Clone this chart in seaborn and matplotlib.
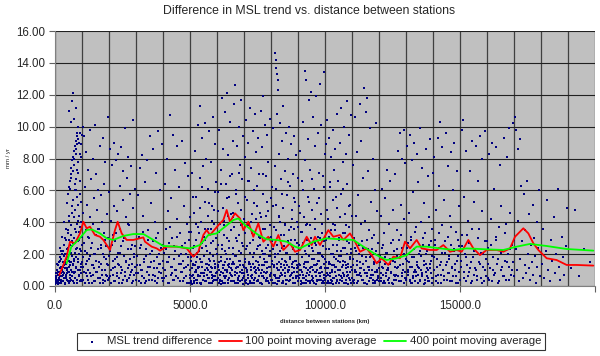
import numpy as np
import pandas as pd
import matplotlib
matplotlib.use("Agg")
import matplotlib.pyplot as plt
import seaborn as sns
from matplotlib.ticker import MultipleLocator, FuncFormatter

# ---------------- data ----------------
pts_0_2k = [(60,0.2),(90,0.8),(110,0.1),(140,1.5),(160,0.5),(180,2.4),(200,0.9),(210,0.2),(230,1.7),(250,3.1),(260,0.6),(280,1.2),(300,0.3),(310,2.2),(330,4.0),(340,0.8),(360,1.5),(370,0.1),(390,2.9),(400,0.6),(410,3.6),(430,1.1),(440,0.4),(450,5.2),(460,2.0),(480,0.9),(490,3.3),(500,0.2),(510,1.6),(520,4.4),(540,0.7),(550,2.6),(560,6.1),(570,1.3),(580,0.4),(600,3.8),(610,6.8),(620,1.9),(630,0.9),(640,5.0),(650,7.2),(660,0.3),(670,2.7),(680,1.4),(690,7.6),(700,4.3),(710,0.8),(720,8.0),(730,2.1),(740,6.4),(750,0.5),(760,8.3),(770,3.4),(780,1.2),(790,8.6),(800,5.6),(810,0.2),(820,8.9),(830,2.4),(840,7.1),(850,1.7),(860,9.2),(870,4.1),(880,0.6),(890,9.0),(900,2.9),(910,6.6),(920,1.0),(930,3.7),(940,9.6),(950,0.4),(960,5.3),(970,2.2),(980,8.1),(990,1.5),
    (520,11.0),(630,11.6),(670,12.1),(780,11.2),(600,10.3),(700,10.5),(850,10.0),
    (1010,0.3),(1030,1.8),(1050,4.6),(1060,0.9),(1080,2.7),(1090,9.4),(1100,0.2),(1120,6.2),(1130,1.4),(1150,3.5),(1160,8.4),(1170,0.6),(1190,2.1),(1200,5.1),(1210,1.0),(1230,7.3),(1240,0.4),(1260,3.0),(1270,1.7),(1290,4.3),(1300,9.8),(1310,0.8),(1330,2.4),(1340,6.7),(1360,0.2),(1370,1.3),(1390,3.9),(1400,8.0),(1410,0.7),(1430,2.0),(1440,5.5),(1460,1.1),(1470,10.1),(1490,0.3),(1500,3.2),(1520,1.6),(1530,7.0),(1550,0.9),(1560,4.8),(1580,2.3),(1590,0.5),(1610,6.0),(1620,1.2),(1640,3.6),(1650,8.8),(1670,0.2),(1690,2.6),(1700,5.7),(1720,1.4),(1730,0.7),(1750,4.0),(1760,9.3),(1780,2.0),(1790,0.4),(1810,3.3),(1830,6.4),(1840,1.0),(1860,0.3),(1870,7.8),(1890,2.5),(1900,1.7),(1920,4.5),(1930,0.6),(1950,3.0),(1960,10.6),(1980,1.3),(1990,5.9)]

pts_2_5k = [(2010,0.5),(2030,2.2),(2050,8.6),(2060,1.0),(2080,4.1),(2090,0.2),(2110,7.6),(2130,1.6),(2150,3.2),(2160,0.7),(2180,9.0),(2200,5.0),(2210,1.2),(2230,0.3),(2240,2.8),(2260,7.9),(2280,1.8),(2300,0.6),(2310,4.7),(2330,8.3),(2350,2.1),(2360,0.2),(2380,1.3),(2400,6.3),(2410,3.6),(2430,0.8),(2450,2.5),(2460,8.7),(2480,1.0),(2500,5.4),(2520,0.4),(2530,7.2),(2550,1.9),(2570,3.0),(2580,0.6),(2600,9.9),(2620,1.5),(2640,4.3),(2650,0.3),(2670,6.8),(2690,2.3),(2700,1.1),(2720,8.1),(2740,0.5),(2750,3.8),(2770,1.7),(2790,5.8),(2800,0.9),(2820,7.5),(2840,2.6),(2850,0.2),(2870,1.4),(2890,4.9),(2900,10.4),(2920,0.7),(2940,2.0),(2960,6.1),(2980,1.2),
    (3010,0.4),(3040,1.9),(3060,5.7),(3080,0.8),(3110,3.1),(3130,7.4),(3150,1.3),(3170,0.2),(3200,2.6),(3220,8.2),(3240,1.0),(3270,4.4),(3290,0.5),(3310,1.7),(3340,6.5),(3360,2.3),(3380,0.3),(3410,7.9),(3430,1.2),(3450,3.5),(3480,0.7),(3500,2.0),(3520,9.4),(3550,1.5),(3570,5.2),(3590,0.4),(3620,2.8),(3640,8.6),(3660,1.1),(3690,0.6),(3710,4.0),(3730,7.1),(3760,1.8),(3780,0.2),(3800,3.3),(3830,9.7),(3850,1.4),(3870,0.9),(3900,6.0),(3920,2.4),(3950,0.5),(3970,8.9),(3990,1.6),
    (4010,0.3),(4030,2.1),(4060,6.4),(4080,1.0),(4100,3.6),(4120,0.6),(4150,8.0),(4170,1.5),(4190,4.7),(4210,0.2),(4240,2.7),(4260,10.7),(4280,1.2),(4300,5.5),(4320,0.8),(4350,3.0),(4370,9.5),(4390,1.7),(4420,0.4),(4440,7.3),(4460,2.2),(4490,1.0),(4510,4.2),(4530,8.8),(4560,0.5),(4580,1.9),(4600,6.2),(4630,3.3),(4650,0.9),(4670,1.4),(4700,9.1),(4720,2.5),(4740,0.3),(4770,5.0),(4790,1.1),(4810,7.7),(4840,2.0),(4860,0.6),(4880,3.9),(4910,1.3),(4930,6.9),(4960,0.2),(4980,2.9)]

pts_5_8k = [(5010,0.5),(5020,1.6),(5040,3.4),(5050,0.2),(5070,7.1),(5080,1.1),(5100,2.4),(5110,0.7),(5130,4.6),(5150,1.9),(5160,0.3),(5180,8.5),(5190,1.3),(5210,2.9),(5220,0.9),(5240,5.6),(5250,0.4),(5270,1.8),(5280,3.7),(5300,10.1),(5310,0.6),(5330,2.2),(5340,1.2),(5360,6.8),(5370,11.3),(5390,0.2),(5400,4.0),(5420,1.5),(5430,9.3),(5450,0.8),(5460,2.7),(5480,7.5),(5490,0.4),(5510,1.9),(5520,3.1),(5540,10.2),(5550,1.0),(5570,5.3),(5580,0.3),(5600,2.5),(5610,8.0),(5630,1.4),(5640,0.7),(5660,4.4),(5670,6.1),(5690,1.7),(5700,0.2),(5720,9.7),(5730,2.1),(5750,0.9),(5760,3.6),(5780,7.8),(5790,1.2),(5810,0.5),(5820,5.0),(5840,2.8),(5850,10.6),(5870,0.3),(5880,1.6),(5900,4.8),(5910,8.9),(5930,1.1),(5940,0.6),(5960,3.0),(5970,6.5),(5990,2.0),
    (6010,0.4),(6020,1.3),(6040,5.9),(6050,2.6),(6060,0.2),(6080,9.8),(6090,1.0),(6110,3.9),(6120,0.7),(6140,7.3),(6150,1.8),(6170,11.8),(6180,0.3),(6200,2.3),(6210,4.9),(6230,1.1),(6240,8.6),(6260,0.6),(6270,3.2),(6290,10.9),(6300,1.5),(6310,0.2),(6330,6.4),(6340,2.0),(6360,0.9),(6370,12.1),(6390,4.4),(6400,1.3),(6420,8.2),(6430,0.5),(6450,2.8),(6460,5.6),(6480,1.7),(6490,10.3),(6510,0.3),(6520,3.5),(6540,7.0),(6550,1.0),(6570,0.6),(6580,9.1),(6600,2.4),(6610,4.6),(6630,1.4),(6640,11.4),(6660,0.2),(6670,12.6),(6690,6.0),(6700,1.9),(6720,3.0),(6730,0.8),(6750,8.8),(6760,1.2),(6780,5.2),(6790,0.4),(6810,10.0),(6820,2.2),(6840,7.6),(6850,1.6),(6870,0.3),(6880,3.8),(6900,11.7),(6910,1.0),(6930,6.7),(6940,2.7),(6960,0.5),(6970,9.4),(6990,4.2),
    (7010,0.6),(7020,1.5),(7040,8.1),(7050,3.3),(7060,0.2),(7080,10.4),(7090,1.1),(7110,5.4),(7120,2.5),(7140,0.7),(7150,9.0),(7170,1.4),(7180,3.9),(7200,6.6),(7210,0.3),(7230,11.2),(7240,2.1),(7260,1.0),(7270,7.4),(7290,4.5),(7300,0.5),(7320,9.7),(7330,1.8),(7350,2.9),(7360,0.2),(7380,6.0),(7390,10.8),(7410,1.2),(7420,3.4),(7440,0.8),(7450,8.4),(7470,2.3),(7480,5.0),(7500,1.5),(7510,0.4),(7530,9.3),(7540,3.1),(7560,1.0),(7570,7.0),(7590,0.2),(7600,2.6),(7620,11.0),(7630,4.3),(7650,1.3),(7660,0.6),(7680,8.7),(7690,2.0),(7710,11.9),(7720,5.8),(7740,0.9),(7750,1.7),(7770,10.1),(7780,3.6),(7800,0.3),(7810,6.9),(7830,2.4),(7840,9.5),(7860,1.1),(7870,0.5),(7890,4.7),(7900,7.8),(7920,1.9),(7930,3.0),(7950,0.7),(7960,10.5),(7980,2.2),(7990,5.5)]

pts_8_11k = [(8010,0.4),(8020,1.6),(8040,6.2),(8050,2.8),(8070,0.2),(8080,9.9),(8100,1.2),(8110,3.7),(8130,0.7),(8140,7.5),(8150,14.6),(8160,2.0),(8170,14.2),(8180,0.5),(8190,5.1),(8200,13.7),(8210,1.4),(8220,13.3),(8230,10.8),(8240,2.6),(8250,12.9),(8260,0.3),(8270,12.3),(8280,4.4),(8290,8.3),(8300,1.0),(8320,10.2),(8330,2.2),(8350,0.6),(8360,6.7),(8380,3.2),(8390,1.7),(8410,9.1),(8420,0.2),(8440,4.9),(8450,11.3),(8470,1.3),(8480,2.5),(8500,7.2),(8510,0.8),(8530,3.8),(8540,9.6),(8560,1.5),(8570,0.4),(8590,5.7),(8600,2.1),(8620,8.0),(8630,1.0),(8650,0.3),(8660,3.5),(8680,10.0),(8690,6.3),(8710,1.8),(8720,0.6),(8740,2.9),(8750,8.9),(8770,4.2),(8780,1.2),(8800,0.2),(8810,7.0),(8830,2.4),(8840,9.4),(8860,0.9),(8870,3.6),(8890,5.3),(8900,1.6),(8920,0.5),(8930,8.2),(8950,2.7),(8960,4.0),(8980,1.1),(8990,6.8),
    (9010,0.3),(9020,1.4),(9040,5.0),(9050,2.3),(9070,0.7),(9080,8.5),(9100,1.0),(9110,3.4),(9130,0.2),(9140,6.6),(9160,1.8),(9170,10.3),(9190,2.7),(9200,0.5),(9220,4.3),(9230,1.2),(9250,13.5),(9260,7.9),(9280,0.4),(9290,2.0),(9310,12.9),(9320,3.9),(9340,1.5),(9350,0.8),(9370,9.2),(9380,5.6),(9400,2.5),(9410,11.7),(9430,0.2),(9440,1.1),(9460,7.3),(9470,3.0),(9490,12.2),(9500,1.7),(9510,0.6),(9530,4.8),(9540,10.6),(9560,2.2),(9570,0.3),(9590,6.1),(9600,1.3),(9620,8.8),(9630,3.6),(9650,0.9),(9660,11.9),(9680,2.6),(9690,5.2),(9710,1.0),(9720,0.4),(9740,9.6),(9750,3.1),(9770,1.6),(9780,7.1),(9800,0.6),(9810,12.7),(9830,2.1),(9840,4.5),(9860,1.2),(9870,10.1),(9890,0.2),(9900,3.3),(9920,6.9),(9930,1.8),(9950,13.4),(9960,2.8),(9980,0.5),(9990,8.3),
    (10010,0.4),(10020,1.5),(10040,8.9),(10050,2.9),(10070,0.8),(10080,10.4),(10100,1.1),(10110,4.2),(10130,0.2),(10140,9.3),(10160,2.3),(10170,6.2),(10190,1.4),(10200,0.6),(10220,8.1),(10230,3.5),(10250,1.0),(10260,0.3),(10280,5.4),(10290,9.8),(10310,2.0),(10320,1.3),(10340,7.3),(10350,0.5),(10370,3.8),(10380,8.6),(10400,1.7),(10410,0.2),(10430,4.9),(10440,2.6),(10460,10.8),(10470,1.0),(10490,6.6),(10500,0.7),(10520,3.0),(10530,1.9),(10550,9.0),(10560,0.4),(10580,2.2),(10590,11.2),(10610,5.8),(10620,1.2),(10640,0.3),(10650,7.8),(10670,3.3),(10680,1.6),(10700,10.0),(10710,0.6),(10730,4.5),(10740,2.4),(10760,8.3),(10770,1.1),(10790,0.2),(10800,6.4),(10820,11.6),(10830,2.8),(10850,1.4),(10860,0.7),(10880,9.5),(10890,3.7),(10910,1.8),(10920,0.4),(10940,5.1),(10950,10.7),(10970,2.1),(10990,1.0)]

pts_11_14k = [(11010,0.5),(11030,1.7),(11050,7.6),(11070,3.0),(11080,0.2),(11100,1.0),(11120,10.6),(11140,4.4),(11150,2.2),(11170,0.7),(11190,8.4),(11200,1.3),(11220,5.7),(11240,0.3),(11260,2.6),(11280,11.4),(11290,1.5),(11310,0.8),(11330,3.9),(11350,9.1),(11360,1.9),(11380,0.4),(11400,6.8),(11420,2.4),(11440,12.4),(11450,1.0),(11470,0.2),(11490,4.1),(11500,10.9),(11520,1.6),(11540,2.9),(11560,0.6),(11570,11.8),(11590,7.2),(11610,1.2),(11630,0.3),(11640,3.5),(11660,9.9),(11680,1.8),(11700,0.7),(11720,5.3),(11730,2.3),(11750,1.0),(11770,0.4),(11790,8.0),(11800,3.2),(11820,1.4),(11840,0.2),(11860,6.0),(11870,2.0),(11890,10.2),(11910,0.9),(11930,4.7),(11950,1.5),(11960,0.5),(11980,2.7),
    (12010,0.3),(12030,1.5),(12060,4.4),(12080,0.8),(12100,2.4),(12120,6.1),(12140,1.1),(12160,0.2),(12190,3.3),(12210,1.8),(12230,5.5),(12250,0.6),(12270,2.1),(12300,7.3),(12320,1.0),(12340,0.4),(12360,3.9),(12390,1.4),(12410,6.6),(12430,0.9),(12450,2.7),(12470,0.2),(12500,1.6),(12520,4.8),(12540,0.7),(12570,2.2),(12590,7.0),(12610,1.2),(12630,0.4),(12660,3.5),(12680,1.9),(12700,8.5),(12720,0.6),(12750,2.9),(12770,9.6),(12790,1.3),(12810,5.1),(12830,0.3),(12850,8.0),(12870,2.4),(12890,1.0),(12910,9.8),(12930,4.2),(12950,0.5),(12970,7.7),(12990,1.7),
    (13010,0.4),(13030,1.6),(13050,8.8),(13070,2.7),(13090,0.9),(13110,4.6),(13130,9.5),(13150,1.2),(13170,0.2),(13190,3.1),(13210,7.9),(13230,1.8),(13250,0.6),(13270,5.9),(13290,2.3),(13310,9.0),(13330,1.0),(13350,0.3),(13370,3.7),(13390,8.3),(13410,1.5),(13430,0.7),(13450,6.5),(13470,2.0),(13490,1.1),(13510,9.9),(13530,0.4),(13550,4.0),(13570,1.9),(13590,7.4),(13610,0.8),(13630,2.6),(13650,1.3),(13670,5.2),(13690,0.2),(13710,3.3),(13730,8.6),(13750,1.4),(13770,0.6),(13790,2.2),(13810,6.9),(13830,1.0),(13850,4.3),(13870,0.3),(13890,9.2),(13910,2.8),(13930,1.6),(13950,0.5),(13970,3.6),(13990,7.1)]

pts_14_20k = [(14010,0.5),(14030,1.8),(14050,8.1),(14080,2.9),(14100,0.3),(14120,4.8),(14150,1.2),(14170,9.3),(14190,0.7),(14220,2.4),(14240,6.3),(14260,10.3),(14280,1.5),(14300,0.2),(14330,3.8),(14350,8.7),(14370,1.0),(14400,0.6),(14420,5.4),(14440,2.1),(14470,9.6),(14490,1.3),(14510,0.4),(14540,3.1),(14560,7.5),(14580,1.7),(14610,0.8),(14630,4.4),(14650,2.6),(14680,8.4),(14700,1.1),(14720,0.3),(14750,6.0),(14770,2.2),(14790,9.0),(14820,1.4),(14840,0.6),(14860,3.4),(14890,7.2),(14910,1.9),(14930,0.2),(14960,5.0),(14980,2.5),
    (15010,0.4),(15040,1.6),(15060,9.8),(15090,3.2),(15110,10.4),(15130,0.9),(15160,5.6),(15180,2.0),(15210,0.3),(15230,8.5),(15260,1.3),(15280,4.1),(15310,0.6),(15330,2.7),(15360,7.2),(15380,1.1),(15410,0.2),(15430,3.6),(15460,9.1),(15480,1.8),(15510,0.7),(15530,5.3),(15560,2.3),(15580,8.8),(15610,1.0),(15630,0.4),(15660,3.0),(15680,6.6),(15710,1.5),(15730,9.4),(15760,0.5),(15780,2.1),(15810,4.7),(15830,8.0),(15860,1.2),(15880,0.3),(15910,2.8),(15930,9.7),(15960,1.7),(15980,0.6),
    (16020,0.5),(16050,2.4),(16080,8.3),(16110,1.1),(16140,4.2),(16170,0.3),(16200,9.0),(16230,1.8),(16260,6.1),(16290,0.8),(16320,2.9),(16350,8.7),(16380,1.4),(16410,0.2),(16440,3.7),(16470,7.6),(16500,1.0),(16530,5.0),(16560,2.2),(16590,0.6),(16620,9.3),(16650,1.6),(16680,3.3),(16710,0.4),(16740,8.1),(16770,2.0),(16800,1.2),(16830,9.9),(16860,4.6),(16890,0.7),(16920,2.6),(16950,10.2),(16980,1.5),
    (17010,0.6),(17030,10.6),(17060,2.3),(17080,9.8),(17110,1.0),(17130,8.6),(17160,4.1),(17190,0.3),(17210,9.2),(17240,1.7),(17270,6.3),(17300,2.8),(17330,0.5),(17360,5.8),(17390,1.3),(17420,3.5),(17450,0.8),(17480,6.6),(17510,2.0),(17540,1.1),(17570,4.5),(17600,0.4),(17630,2.6),(17660,1.5),(17690,5.1),(17720,0.7),(17750,3.0),(17780,1.9),(17810,0.2),(17840,4.0),(17870,1.2),(17900,2.4),(17930,6.0),(17960,0.6),
    (18030,1.4),(18080,3.6),(18120,0.5),(18170,2.2),(18220,5.4),(18270,1.0),(18320,0.3),(18370,2.9),(18420,1.6),(18470,4.3),(18520,0.8),(18570,2.0),(18620,6.1),(18670,1.2),(18720,0.4),(18770,3.1),(18820,1.8),(18870,0.7),(18920,2.5),(18970,4.9),
    (19100,1.1),(19250,4.8),(19400,0.6),(19600,2.3),(19800,1.5)]

# dense lower band and the steep streak near the origin
pts_low_0_5k = [(15,0.1),(30,0.5),(45,0.2),(65,1.0),(75,0.4),(95,0.7),(105,1.3),(125,0.3),(135,0.9),(150,0.2),(170,1.1),(185,0.6),(195,1.8),(215,0.4),(225,1.2),(240,0.8),(255,2.0),(265,0.3),(285,1.5),(295,0.9),(315,2.6),(325,0.5),(345,1.9),(355,1.1),(375,0.2),(385,3.0),(405,1.4),(415,0.7),(435,2.3),(445,1.0),(465,3.5),(475,0.3),(495,1.8),(505,2.9),(525,0.9),(535,4.1),(545,1.5),(565,0.5),(575,3.2),(595,2.1),(605,1.0),(625,4.6),(635,0.6),(645,2.5),(665,1.3),(675,5.4),(695,0.2),(705,3.0),(715,1.7),(735,4.8),(745,0.9),(765,2.3),(775,6.0),(795,1.1),(805,3.9),(825,0.4),(835,2.8),(845,5.1),(865,1.5),(875,0.7),(895,3.4),(905,2.0),(925,5.8),(935,0.3),(945,1.2),(965,4.0),(975,0.8),(985,2.6),
    (8,0.4),(22,0.8),(38,0.3),(52,0.6),(82,1.4),(118,0.9),(142,0.4),(178,1.6),(205,0.3),(232,2.2),(272,1.0),(305,0.7),(338,1.3),(365,2.0),(398,0.5),(425,1.7),(455,0.8),(488,2.4),(515,1.2),(555,0.3),(588,1.5),(618,2.8),(655,0.9),(688,1.6),(725,0.5),(758,3.6),(788,1.8),(818,2.9),(855,1.0),(885,4.4),(915,2.3),(955,1.4),(992,3.1),
    (470,5.8),(500,6.2),(540,6.6),(575,7.0),(610,7.4),(640,7.9),(665,8.1),(700,8.5),(735,8.8),(770,9.1),(800,9.4),(830,9.6),
    (750,6.0),(790,6.7),(830,7.3),(870,7.8),(910,8.3),(950,8.9),(990,9.5),(1030,10.0),
    (1020,1.2),(1055,0.4),(1095,2.2),(1135,0.8),(1175,1.6),(1215,3.1),(1255,0.2),(1295,1.9),(1335,0.6),(1375,2.7),(1415,1.3),(1455,0.3),(1495,2.0),(1535,0.9),(1575,3.6),(1615,1.5),(1655,0.5),(1695,2.4),(1735,1.0),(1775,0.2),(1815,1.8),(1855,2.9),(1895,0.7),(1935,1.4),(1975,0.4),
    (2015,1.9),(2055,0.6),(2095,2.6),(2135,1.1),(2175,0.3),(2215,1.7),(2255,3.3),(2295,0.8),(2335,1.4),(2375,0.5),(2415,2.1),(2455,1.2),(2495,0.2),(2535,2.8),(2575,0.9),(2615,1.6),(2655,0.4),(2695,3.9),(2735,1.3),(2775,0.7),(2815,2.3),(2855,1.0),(2895,0.3),(2935,1.8),(2975,2.5),
    (3015,0.8),(3055,1.3),(3095,0.3),(3135,2.4),(3175,1.0),(3215,0.6),(3255,3.4),(3295,1.5),(3335,0.2),(3375,1.9),(3415,0.9),(3455,2.9),(3495,0.4),(3535,1.2),(3575,2.2),(3615,0.7),(3655,1.6),(3695,0.3),(3735,3.0),(3775,1.1),(3815,0.5),(3855,2.0),(3895,1.4),(3935,0.8),(3975,2.6),
    (4015,1.1),(4055,0.5),(4095,2.3),(4135,1.5),(4175,0.2),(4215,1.8),(4255,3.7),(4295,0.7),(4335,1.2),(4375,0.4),(4415,2.5),(4455,1.0),(4495,0.6),(4535,3.1),(4575,1.4),(4615,0.3),(4655,2.0),(4695,0.9),(4735,1.6),(4775,0.5),(4815,2.7),(4855,1.2),(4895,0.2),(4935,1.8),(4975,3.4)]

pts_low_5_11k = [(5005,1.0),(5030,0.3),(5055,1.8),(5080,0.6),(5105,1.3),(5130,0.2),(5155,2.5),(5180,0.9),(5205,1.5),(5230,0.4),(5255,2.1),(5280,1.1),(5305,0.7),(5330,3.3),(5355,0.2),(5380,1.7),(5405,0.8),(5430,2.4),(5455,1.2),(5480,0.4),(5505,1.9),(5530,0.6),(5555,2.9),(5580,1.4),(5605,0.3),(5630,2.2),(5655,1.0),(5680,3.6),(5705,0.5),(5730,1.6),(5755,0.2),(5780,2.7),(5805,1.1),(5830,0.7),(5855,1.9),(5880,3.9),(5905,0.4),(5930,1.4),(5955,2.3),(5980,0.8),
    (6005,2.0),(6030,0.5),(6055,1.2),(6080,3.4),(6105,0.3),(6130,1.6),(6155,0.9),(6180,2.6),(6205,1.3),(6230,0.2),(6255,4.1),(6280,1.0),(6305,2.2),(6330,0.6),(6355,1.7),(6380,3.0),(6405,0.4),(6430,1.4),(6455,2.4),(6480,0.8),(6505,4.5),(6530,1.1),(6555,0.3),(6580,2.0),(6605,1.5),(6630,3.7),(6655,0.7),(6680,1.9),(6705,0.2),(6730,2.8),(6755,1.2),(6780,0.5),(6805,3.2),(6830,1.6),(6855,0.9),(6880,2.1),(6905,4.8),(6930,0.4),(6955,1.3),(6980,2.5),
    (7005,0.8),(7030,1.7),(7055,0.3),(7080,2.3),(7105,1.0),(7130,3.8),(7155,0.5),(7180,1.5),(7205,2.7),(7230,0.2),(7255,1.2),(7280,0.7),(7305,3.3),(7330,1.4),(7355,0.4),(7380,2.1),(7405,0.9),(7430,4.2),(7455,1.6),(7480,0.3),(7505,2.5),(7530,1.1),(7555,0.6),(7580,3.0),(7605,1.8),(7630,0.2),(7655,2.2),(7680,1.0),(7705,3.6),(7730,0.5),(7755,1.3),(7780,2.0),(7805,0.8),(7830,4.4),(7855,1.5),(7880,0.3),(7905,2.6),(7930,1.2),(7955,0.6),(7980,1.9),
    (8005,3.1),(8030,0.4),(8055,1.4),(8080,2.3),(8105,0.7),(8130,1.8),(8155,0.2),(8180,3.5),(8205,1.1),(8230,0.5),(8255,2.0),(8280,1.5),(8305,0.3),(8330,4.0),(8355,1.2),(8380,0.8),(8405,2.4),(8430,1.0),(8455,0.2),(8480,3.2),(8505,1.6),(8530,0.6),(8555,2.1),(8580,1.3),(8605,0.4),(8630,2.8),(8655,1.0),(8680,0.3),(8705,1.7),(8730,3.7),(8755,0.7),(8780,1.4),(8805,2.3),(8830,0.5),(8855,1.1),(8880,2.9),(8905,0.2),(8930,1.6),(8955,0.9),(8980,2.0),
    (9005,1.2),(9030,0.5),(9055,2.6),(9080,1.0),(9105,0.3),(9130,1.8),(9155,3.4),(9180,0.7),(9205,1.4),(9230,0.2),(9255,2.2),(9280,1.1),(9305,0.6),(9330,2.9),(9355,1.5),(9380,0.3),(9405,1.9),(9430,0.9),(9455,3.8),(9480,1.2),(9505,0.4),(9530,2.4),(9555,1.0),(9580,0.2),(9605,1.7),(9630,2.7),(9655,0.6),(9680,1.3),(9705,0.3),(9730,2.1),(9755,1.6),(9780,0.8),(9805,3.0),(9830,1.1),(9855,0.4),(9880,1.9),(9905,0.9),(9930,2.5),(9955,1.4),(9980,0.2),
    (10005,1.7),(10030,0.6),(10055,2.3),(10080,1.1),(10105,0.3),(10130,3.1),(10155,1.5),(10180,0.8),(10205,2.0),(10230,0.2),(10255,1.3),(10280,2.6),(10305,0.5),(10330,1.8),(10355,0.9),(10380,3.5),(10405,1.2),(10430,0.4),(10455,2.2),(10480,1.6),(10505,0.2),(10530,2.9),(10555,1.0),(10580,0.6),(10605,1.9),(10630,0.3),(10655,2.4),(10680,1.3),(10705,0.7),(10730,3.3),(10755,1.5),(10780,0.4),(10805,2.0),(10830,0.9),(10855,1.2),(10880,2.7),(10905,0.5),(10930,1.7),(10955,0.2),(10980,2.3),
    (5015,4.3),(5120,5.6),(5240,3.9),(5370,4.9),(5460,6.2),(5570,3.6),(5690,5.2),(5820,4.1),(5940,5.9),
    (6040,4.7),(6150,6.4),(6260,3.8),(6360,5.5),(6470,6.9),(6590,4.3),(6700,5.8),(6820,7.1),(6930,3.9),
    (7040,5.6),(7160,6.6),(7260,4.0),(7370,5.2),(7490,6.3),(7610,4.6),(7720,7.0),(7840,5.3),(7950,3.8),
    (8060,5.0),(8170,6.1),(8290,4.3),(8400,5.8),(8520,3.9),(8640,6.5),(8760,4.8),(8870,5.5),(8990,3.7),
    (9060,4.6),(9180,6.0),(9290,3.8),(9420,5.3),(9520,6.7),(9640,4.2),(9760,5.5),(9880,3.9),(9970,6.2),
    (10060,4.8),(10190,6.5),(10310,3.9),(10420,5.6),(10540,4.3),(10660,6.1),(10780,3.8),(10890,5.0),(10990,4.4)]

pts_base_5_14k = [(5012,0.7),(5062,0.1),(5112,1.4),(5162,0.5),(5212,1.0),(5262,0.2),(5312,1.2),(5362,0.6),(5412,0.1),(5462,1.5),(5512,0.8),(5562,0.3),(5612,1.1),(5662,0.5),(5712,1.3),(5762,0.9),(5812,0.2),(5862,0.6),(5912,1.2),(5962,0.4),
    (6012,0.9),(6062,1.5),(6112,0.4),(6162,0.1),(6212,0.8),(6262,1.3),(6312,0.5),(6362,1.0),(6412,0.2),(6462,1.2),(6512,0.7),(6562,1.4),(6612,0.3),(6662,0.9),(6712,1.1),(6762,0.2),(6812,0.6),(6862,1.3),(6912,0.8),(6962,0.1),
    (7012,1.2),(7062,0.4),(7112,0.9),(7162,0.1),(7212,1.4),(7262,0.6),(7312,0.2),(7362,1.1),(7412,0.5),(7462,1.0),(7512,0.3),(7562,1.3),(7612,0.8),(7662,0.1),(7712,0.6),(7762,1.5),(7812,0.4),(7862,0.9),(7912,0.2),(7962,1.2),
    (8012,0.8),(8062,0.2),(8112,1.3),(8162,0.6),(8212,0.1),(8262,1.0),(8312,0.5),(8362,1.4),(8412,0.7),(8462,0.3),(8512,1.1),(8562,0.1),(8612,0.9),(8662,1.2),(8712,0.4),(8762,0.8),(8812,1.5),(8862,0.2),(8912,0.6),(8962,1.3),
    (9012,0.6),(9062,1.3),(9112,0.1),(9162,0.9),(9212,0.5),(9262,1.5),(9312,0.2),(9362,1.0),(9412,0.7),(9462,0.3),(9512,1.2),(9562,0.5),(9612,0.9),(9662,0.1),(9712,1.4),(9762,0.4),(9812,0.8),(9862,1.1),(9912,0.3),(9962,0.7),
    (10012,1.1),(10062,0.2),(10112,0.7),(10162,1.4),(10212,0.4),(10262,0.9),(10312,0.1),(10362,1.2),(10412,0.6),(10462,0.3),(10512,1.0),(10562,1.5),(10612,0.5),(10662,0.8),(10712,0.2),(10762,1.3),(10812,0.6),(10862,0.1),(10912,0.9),(10962,1.2),
    (11035,0.3),(11110,0.9),(11185,0.2),(11260,0.7),(11335,1.1),(11410,0.4),(11485,0.8),(11560,0.1),(11635,1.0),(11710,0.5),(11785,0.2),(11860,0.9),(11935,0.4),(12010,1.1),(12085,0.3),(12160,0.7),(12235,0.2),(12310,1.0),(12385,0.5),(12460,0.8),
    (12535,0.1),(12610,0.6),(12685,1.1),(12760,0.3),(12835,0.8),(12910,0.2),(12985,0.5),(13060,1.0),(13135,0.4),(13210,0.2),(13285,0.9),(13360,0.6),(13435,1.2),(13510,0.3),(13585,0.7),(13660,0.1),(13735,0.9),(13810,0.5),(13885,1.1),(13960,0.2)]

pts_low_11_17k = [(11020,1.3),(11060,0.4),(11100,2.4),(11140,0.9),(11180,1.6),(11220,0.3),(11260,2.0),(11300,1.1),(11340,0.6),(11380,2.8),(11420,1.4),(11460,0.2),(11500,1.8),(11540,0.8),(11580,2.3),(11620,1.2),(11660,0.5),(11700,1.9),(11740,3.0),(11780,0.7),(11820,1.5),(11860,0.3),(11900,2.2),(11940,1.0),(11980,0.6),
    (12020,1.9),(12060,0.5),(12100,1.2),(12140,2.6),(12180,0.3),(12220,1.4),(12260,0.8),(12300,2.1),(12340,1.1),(12380,0.2),(12420,1.7),(12460,0.9),(12500,2.9),(12540,0.4),(12580,1.5),(12620,0.7),(12660,2.3),(12700,1.2),(12740,0.3),(12780,1.8),(12820,3.2),(12860,0.6),(12900,1.4),(12940,2.0),(12980,0.9),
    (13020,2.4),(13060,0.7),(13100,1.5),(13140,0.3),(13180,2.9),(13220,1.2),(13260,0.5),(13300,1.8),(13340,3.4),(13380,0.9),(13420,1.3),(13460,0.2),(13500,2.2),(13540,1.0),(13580,0.6),(13620,3.0),(13660,1.6),(13700,0.4),(13740,2.0),(13780,1.1),(13820,0.3),(13860,2.6),(13900,1.4),(13940,0.8),(13980,1.9),
    (14020,1.0),(14060,2.6),(14100,0.6),(14140,1.7),(14180,0.2),(14220,3.3),(14260,1.3),(14300,0.7),(14340,2.1),(14380,1.0),(14420,0.4),(14460,2.8),(14500,1.5),(14540,0.8),(14580,1.9),(14620,0.3),(14660,3.7),(14700,1.2),(14740,0.6),(14780,2.3),(14820,1.0),(14860,0.2),(14900,1.6),(14940,2.9),(14980,0.9),
    (15030,1.2),(15090,2.5),(15150,0.5),(15210,1.8),(15270,3.2),(15330,0.9),(15390,1.5),(15450,0.3),(15510,2.2),(15570,1.1),(15630,0.6),(15690,3.6),(15750,1.4),(15810,0.2),(15870,2.0),(15930,1.0),(15990,2.8),
    (16030,1.4),(16090,0.4),(16150,2.6),(16210,1.0),(16270,0.7),(16330,3.1),(16390,1.7),(16450,0.3),(16510,2.1),(16570,1.2),(16630,0.6),(16690,3.9),(16750,1.5),(16810,0.4),(16870,2.3),(16930,1.0),(16990,2.9)]

ma100_x = [160,430,555,740,925,1050,1173,1296,1480,1667,1790,2037,2222,2321,2469,2654,2901,3272,3333,3580,3765,3889,4136,4506,4877,5123,5309,5494,5617,5741,6111,6235,6358,6481,6667,6852,6975,7160,7346,7531,7716,7901,8086,8272,8457,8704,8889,
           9074,9321,9506,9630,9815,10123,10309,10556,10679,10926,11111,11296,11543,11728,11914,12099,12346,12531,12778,12963,13148,13395,13580,13889,14136,14383,14630,14877,15062,15309,15494,15741,15988,16358,16605,16852,17037,17222,17346,17531,17716,17901,18210,18580,18951,19321,19938]
ma100_y = [0.69,1.84,2.78,2.68,3.30,4.03,3.62,3.72,3.20,3.09,2.89,2.26,3.51,4.03,3.30,2.89,2.89,3.05,2.78,2.47,2.36,2.22,2.47,2.47,2.36,1.84,2.15,3.20,3.51,3.20,3.93,4.14,4.77,4.03,4.56,4.24,3.51,4.03,3.09,3.93,2.78,3.09,2.47,3.20,2.26,2.68,2.15,
           2.26,3.09,2.57,3.09,2.57,3.51,3.09,3.20,2.89,3.30,2.78,2.15,2.36,1.94,1.42,1.74,1.32,1.84,1.74,2.78,2.36,2.89,2.36,2.26,2.26,2.57,2.15,2.26,2.15,2.89,2.36,1.94,2.26,2.26,2.15,2.36,3.09,3.41,3.62,3.30,2.68,2.26,1.74,1.63,1.32,1.32,1.28]

ma400_x = [432,605,864,1173,1358,1667,1914,2160,2531,2901,3272,3642,4012,4506,5000,5370,5679,5988,6296,6605,6790,7037,7284,7531,7840,8210,8580,8889,
           9074,9568,10062,10556,11049,11420,11914,12284,12654,13025,13395,13765,14259,14753,15247,15988,16605,17099,17593,18210,18951,19938]
ma400_y = [1.42,2.47,2.89,3.51,3.55,3.30,2.99,2.89,3.14,3.26,3.26,2.89,2.51,2.47,2.36,2.57,3.20,3.30,3.72,4.14,4.24,3.83,3.51,3.20,2.93,2.89,2.78,2.47,
           2.36,2.78,2.99,2.93,2.89,2.47,1.94,1.63,1.74,1.94,2.47,2.47,2.36,2.26,2.36,2.30,2.26,2.47,2.64,2.51,2.32,2.22]

y_ticks = [0, 2, 4, 6, 8, 10, 12, 14, 16]
x_ticks = [0, 5000, 10000, 15000]

title = "Difference in MSL trend vs. distance between stations"
xlabel = "distance between stations (km)"
ylabel = "mm / yr"
labels = ["MSL trend difference", "100 point moving average", "400 point moving average"]

# ---------------- plotting ----------------
all_pts = (pts_0_2k + pts_2_5k + pts_5_8k + pts_8_11k + pts_11_14k + pts_14_20k
           + pts_low_0_5k + pts_low_5_11k + pts_base_5_14k + pts_low_11_17k)
scatter_df = pd.DataFrame(all_pts, columns=["dist", "diff"])
ma100_df = pd.DataFrame({"dist": ma100_x, "diff": ma100_y})
ma400_df = pd.DataFrame({"dist": ma400_x, "diff": ma400_y})

sns.set_style("white")
plt.rcParams["font.family"] = ["Liberation Sans", "DejaVu Sans"]

fig = plt.figure(figsize=(6.0, 3.56), dpi=100)
ax = fig.add_axes([55/600, 1-286/356, 540/600, 255/356])
ax.set_facecolor("#C0C0C0")

sns.scatterplot(data=scatter_df, x="dist", y="diff", ax=ax, marker="s", s=3.2,
                color="#000080", linewidth=0, label=labels[0], zorder=3)
sns.lineplot(data=ma100_df, x="dist", y="diff", ax=ax, color="#FF0000", lw=1.3,
             estimator=None, sort=False, label=labels[1], zorder=4)
sns.lineplot(data=ma400_df, x="dist", y="diff", ax=ax, color="#00FF00", lw=1.3,
             estimator=None, sort=False, label=labels[2], zorder=5)

ax.set_xlim(0, 20000)
ax.set_ylim(0, 16)
ax.set_yticks(y_ticks)
ax.yaxis.set_major_formatter(FuncFormatter(lambda v, p: f"{v:.2f}"))
ax.set_xticks(x_ticks + [20000])
ax.xaxis.set_major_formatter(FuncFormatter(lambda v, p: "" if v >= 20000 else f"{v:.1f}"))
ax.xaxis.set_minor_locator(MultipleLocator(1000))

ax.grid(True, which="major", axis="y", color="#202020", lw=0.8, zorder=1)
ax.grid(True, which="both", axis="x", color="#404040", lw=0.9, zorder=1)
ax.set_axisbelow(True)

for s in ["top", "right"]:
    ax.spines[s].set_visible(False)
ax.spines["left"].set_color("#808080")
ax.spines["bottom"].set_color("#808080")
ax.tick_params(axis="both", which="major", length=4, width=0.8, color="#606060",
               labelsize=8.3, direction="out", bottom=True, left=True, pad=3)
ax.tick_params(axis="x", which="minor", length=0)
ax.tick_params(axis="x", pad=6)

fig.text(309/600, 1-11/356, title, fontsize=8.8, ha="center", va="center")
ax.set_xlabel(xlabel, fontsize=4.3, fontweight="bold", labelpad=5)
ax.set_ylabel(ylabel, fontsize=4.3, labelpad=4)

h, l = ax.get_legend_handles_labels()
leg = fig.legend(h, l, loc="center", bbox_to_anchor=(311/600, 1-341.5/356), ncol=3,
                 fontsize=8.2, frameon=True, fancybox=False, edgecolor="black",
                 handlelength=2.0, handletextpad=0.3, columnspacing=0.6,
                 borderpad=0.3, markerscale=1.0)
leg.get_frame().set_linewidth(0.8)
if ax.get_legend():
    ax.get_legend().remove()

fig.savefig("out.png", dpi=100, facecolor="white")
